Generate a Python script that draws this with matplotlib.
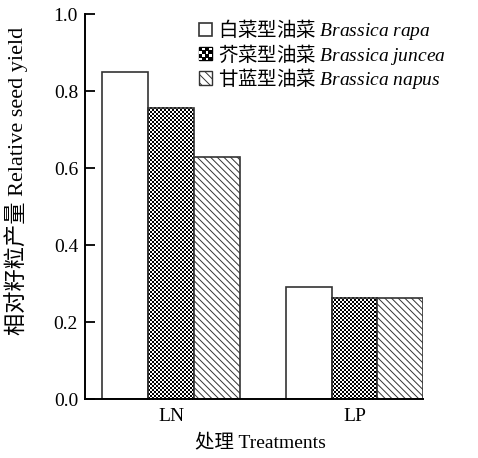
import numpy as np
import matplotlib
matplotlib.use('Agg')
import matplotlib.pyplot as plt
from matplotlib.patches import Rectangle
from matplotlib.legend_handler import HandlerBase
from matplotlib.font_manager import FontProperties

# данные
groups = ['LN', 'LP']
species_cn = ['白菜型油菜', '芥菜型油菜', '甘蓝型油菜']
species_lat = ['Brassica rapa', 'Brassica juncea', 'Brassica napus']
rapa = [0.849, 0.292]
juncea = [0.757, 0.264]
napus = [0.630, 0.264]

plt.rcParams['font.family'] = ['Liberation Serif', 'Noto Sans CJK SC']
plt.rcParams['mathtext.fontset'] = 'custom'
plt.rcParams['mathtext.it'] = 'Liberation Serif:italic'
plt.rcParams['mathtext.rm'] = 'Liberation Serif'
plt.rcParams['hatch.linewidth'] = 0.7

fig = plt.figure(figsize=(4.78, 4.58), dpi=100)
ax = fig.add_axes([0.1778, 0.1282, 0.7078, 0.8412])

x = np.arange(len(groups))
w = 0.25
ax.set_xlim(-0.47, 1.375)
ax.set_ylim(0, 1.0)

edge = '#333333'
b1 = ax.bar(x - w, rapa, w, facecolor='white', edgecolor=edge, lw=1.2, zorder=2)
b2 = ax.bar(x, juncea, w, facecolor='none', edgecolor=edge, lw=1.2, zorder=2)
b3 = ax.bar(x + w, napus, w, facecolor='white', edgecolor=edge, lw=1.2,
            hatch='\\\\\\\\\\', zorder=2)

# шахматная заливка для Brassica juncea
fig.canvas.draw()
cell = 2
for p in b2:
    x0, y0 = p.get_x(), p.get_y()
    x1, y1 = x0 + p.get_width(), y0 + p.get_height()
    (px0, py0), (px1, py1) = ax.transData.transform([(x0, y0), (x1, y1)])
    nx = int(round(px1 - px0))
    ny = int(round(py1 - py0))
    jj, ii = np.meshgrid(np.arange(nx), np.arange(ny))
    board = ((ii // cell + jj // cell) % 2).astype(float)
    ax.imshow(board, extent=[x0, x1, y0, y1], cmap='gray', vmin=0, vmax=1,
              interpolation='nearest', aspect='auto', origin='lower',
              clip_path=p, zorder=1)
ax.set_xlim(-0.47, 1.375)
ax.set_ylim(0, 1.0)

ax.spines['top'].set_visible(False)
ax.spines['right'].set_visible(False)
ax.spines['left'].set_linewidth(1.4)
ax.spines['bottom'].set_linewidth(1.4)
ax.set_xticks(x)
ax.set_xticklabels(groups, fontsize=14)
ax.tick_params(axis='x', length=0, pad=6)
ax.set_yticks(np.arange(0, 1.01, 0.2))
ax.set_yticklabels([f'{v:.1f}' for v in np.arange(0, 1.01, 0.2)], fontsize=14)
ax.tick_params(axis='y', direction='in', length=7, width=1.3, pad=5)

ax.set_ylabel('相对籽粒产量 Relative seed yield', fontsize=16)
ax.yaxis.set_label_coords(-0.168, 0.566)
ax.set_xlabel('处理 Treatments', fontsize=14)
ax.xaxis.set_label_coords(0.52, -0.088)


class CheckerHandler(HandlerBase):
    def create_artists(self, legend, orig_handle, xdescent, ydescent,
                       width, height, fontsize, trans):
        arts = [Rectangle((-xdescent, -ydescent), width, height,
                          facecolor='black', edgecolor='black', lw=1,
                          transform=trans)]
        n = 4
        cw, ch = width / n, height / n
        for i in range(n):
            for j in range(n):
                if (i + j) % 2 == 0:
                    arts.append(Rectangle((-xdescent + i * cw, -ydescent + j * ch),
                                          cw * 0.8, ch * 0.8, facecolor='white',
                                          edgecolor='none', transform=trans))
        return arts


labels = [f'{cn} $\\mathit{{{lat.replace(" ", chr(92) + " ")}}}$'
          for cn, lat in zip(species_cn, species_lat)]
h1 = Rectangle((0, 0), 1, 1, facecolor='white', edgecolor=edge, lw=1.2)
h2 = Rectangle((0, 0), 1, 1)
h3 = Rectangle((0, 0), 1, 1, facecolor='white', edgecolor=edge, lw=1.0, hatch='\\\\\\\\')
leg = fig.legend([h1, h2, h3], labels, loc='upper left',
                 bbox_to_anchor=(0.40, 0.979), frameon=False,
                 prop=FontProperties(family=['Noto Sans CJK SC'], size=14),
                 handlelength=0.68, handleheight=0.68, handletextpad=0.3,
                 labelspacing=-0.04, borderaxespad=0,
                 handler_map={h2: CheckerHandler()})

fig.savefig('out.png', dpi=100)
